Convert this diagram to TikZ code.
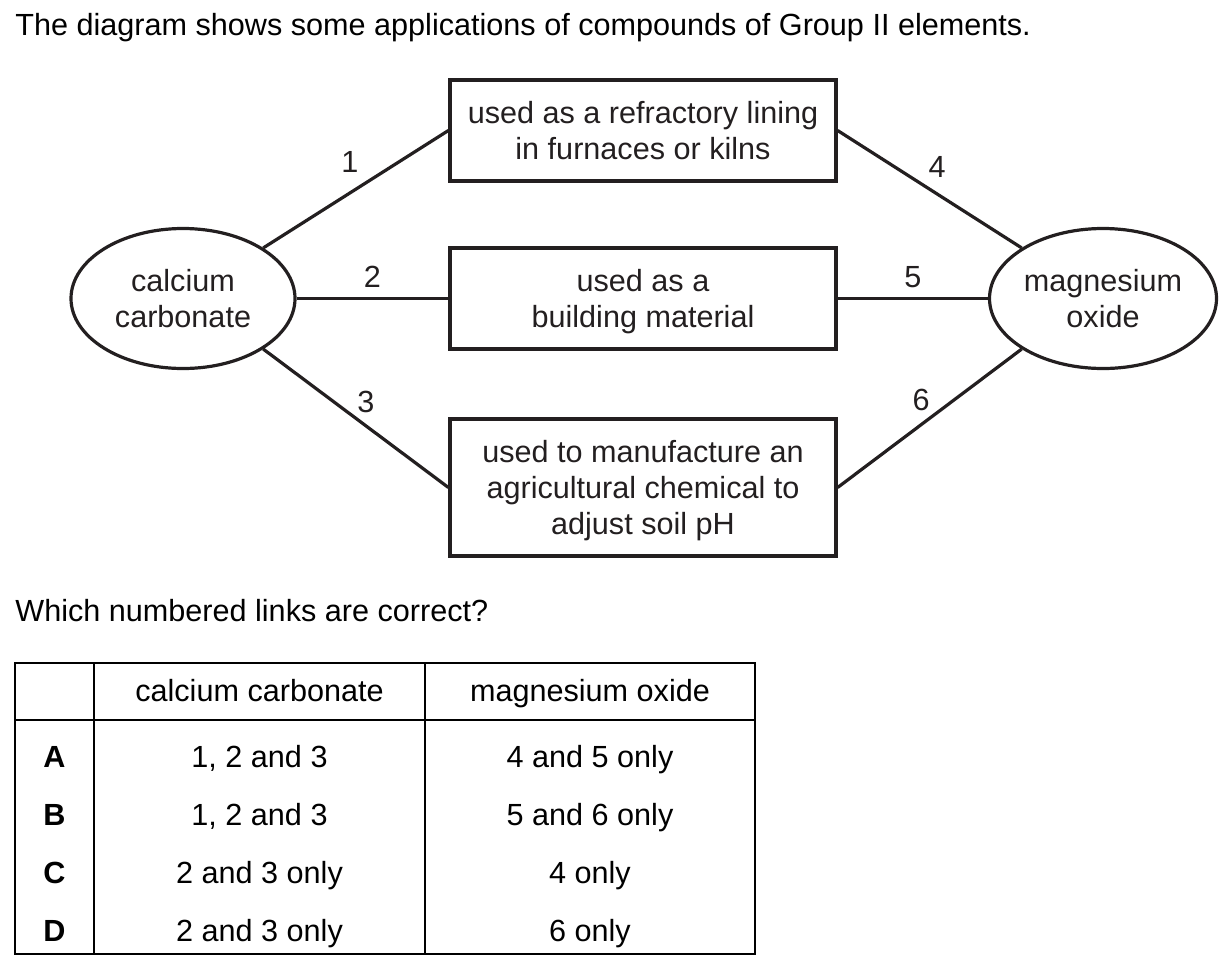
\documentclass[tikz,border=0pt]{standalone}
\usepackage{fontspec}
\setmainfont{Liberation Sans}
\usetikzlibrary{shapes.geometric}
\definecolor{ink}{RGB}{35,31,32}
\newcommand{\txtsize}{\fontsize{15.3pt}{18pt}\selectfont}

\begin{document}
\begin{tikzpicture}[x=0.5pt, y=-0.5pt,
  every node/.style={font=\txtsize, inner sep=0pt},
  appbox/.style={draw=ink, line width=1.6pt, minimum width=193pt, align=center, text=ink, text depth=0pt},
  compd/.style={ellipse, draw=ink, line width=1.6pt, minimum height=70pt, align=center, text=ink, text depth=0pt},
  link/.style={draw=ink, line width=1.6pt},
  num/.style={text=ink},
  grid/.style={line width=1.2pt}]
\useasboundingbox (0,0) rectangle (1230,975);

% question text
\node[anchor=base west] (title) at (15,35) {The diagram shows some applications of compounds of Group II elements.};

% compounds and uses
\node[compd, minimum width=112pt] (cc) at (183,298.5) {calcium\\carbonate};
\node[compd, minimum width=113.5pt] (mo) at (1103,298.5) {magnesium\\oxide};
\node[appbox, minimum height=50.5pt] (r1) at (643,130.5) {used as a refractory lining\\in furnaces or kilns};
\node[appbox, minimum height=50.5pt] (r2) at (643,298.5) {used as a\\building material};
\node[appbox, minimum height=68.5pt] (r3) at (643,487.5) {used to manufacture an\\agricultural chemical to\\adjust soil pH};

% numbered links
\draw[link] (cc.north east) -- node[num, xshift=-3pt, yshift=13.5pt] {1} (r1.west);
\draw[link] (cc.east) -- node[num, yshift=10.8pt] {2} (r2.west);
\draw[link] (cc.south east) -- node[num, xshift=5pt, yshift=8pt] {3} (r3.west);
\draw[link] (r1.east) -- node[num, xshift=3.8pt, yshift=10.9pt] {4} (mo.north west);
\draw[link] (r2.east) -- node[num, yshift=10.8pt] {5} (mo.west);
\draw[link] (r3.east) -- node[num, xshift=-4.2pt, yshift=9.4pt] {6} (mo.south west);

\node[anchor=base west] (quest) at (15,621) {Which numbered links are correct?};

% answer table
\draw[grid] (15,663) rectangle (755,954);
\draw[grid] (15,720) -- (755,720);
\draw[grid] (94,663) -- (94,954);
\draw[grid] (425,663) -- (425,954);
\node[anchor=base] (hcc) at (259.5,701) {calcium carbonate};
\node[anchor=base] (hmo) at (590,701) {magnesium oxide};
\foreach \ltr/\ca/\mg [count=\i] in {A/{1, 2 and 3}/{4 and 5 only}, B/{1, 2 and 3}/{5 and 6 only}, C/{2 and 3 only}/{4 only}, D/{2 and 3 only}/{6 only}}{
  \node[anchor=base, font=\txtsize\bfseries] (opt\i) at (54.5,{767+58*(\i-1)}) {\ltr};
  \node[anchor=base] (ca\i) at (259.5,{767+58*(\i-1)}) {\ca};
  \node[anchor=base] (mg\i) at (590,{767+58*(\i-1)}) {\mg};
}
\end{tikzpicture}
\end{document}
